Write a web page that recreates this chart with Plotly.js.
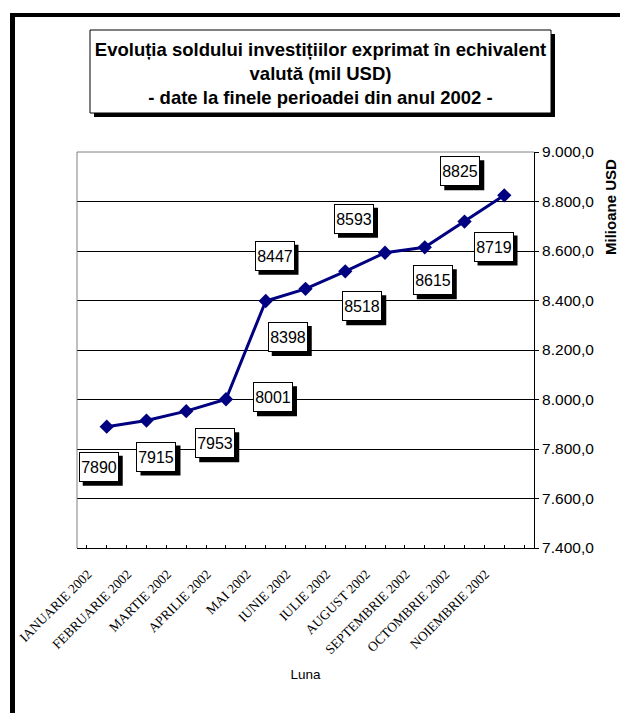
<!DOCTYPE html>
<html>
<head>
<meta charset="utf-8">
<script src="https://cdn.plot.ly/plotly-3.0.1.min.js"></script>
<style>html,body{margin:0;padding:0;background:#fff;}#chart{width:620px;height:713px;}</style>
</head>
<body>
<div id="chart"></div>
<script>
// ---- data ----
const months = ["IANUARIE 2002","FEBRUARIE 2002","MARTIE 2002","APRILIE 2002","MAI 2002","IUNIE 2002","IULIE 2002","AUGUST 2002","SEPTEMBRIE 2002","OCTOMBRIE 2002","NOIEMBRIE 2002"];
const values = [7890, 7915, 7953, 8001, 8398, 8447, 8518, 8593, 8615, 8719, 8825];
const yTicks = [7400, 7600, 7800, 8000, 8200, 8400, 8600, 8800, 9000];

// ---- label placement (pixel offsets of each value box from its point) ----
const labelDX = [-8, 10, 29, 47, 22, -31, 17, -31, 8, 29, -44];
const labelDY = [40, 36, 32, -2, 36, -33, 35, -34, 33, 25, -24];

// ---- geometry helpers ----
const W = 620, H = 713;
const M = {l: 77, r: 86, t: 152, b: 165};
const PW = W - M.l - M.r, PH = H - M.t - M.b;
const px = x => (x - M.l) / PW;
const py = y => (H - M.b - y) / PH;

const AR = "Arial, 'Liberation Sans', sans-serif";
const TNR = "'Times New Roman', 'Liberation Serif', serif";

const traces = [
  {
    x: months, y: values, type: 'scatter', mode: 'lines+markers',
    line: {color: '#000080', width: 3},
    marker: {symbol: 'diamond', size: 11, color: '#000080'},
    hoverinfo: 'x+y', showlegend: false
  },
  {
    x: months, y: values, type: 'scatter', mode: 'markers', xaxis: 'x2',
    marker: {opacity: 0, size: 1}, hoverinfo: 'skip', showlegend: false
  }
];

const BW = 40, BH = 30, SH = 4;
const shapes = [
  // outer frame (top + left)
  {type: 'line', xref: 'paper', yref: 'paper', x0: px(10), x1: px(630), y0: py(15), y1: py(15), line: {color: '#000', width: 4}},
  {type: 'line', xref: 'paper', yref: 'paper', x0: px(12.5), x1: px(12.5), y0: py(13), y1: py(720), line: {color: '#000', width: 5}},
  // title box shadow + box
  {type: 'rect', xref: 'paper', yref: 'paper', x0: px(94), x1: px(555), y0: py(34), y1: py(117), fillcolor: '#000', line: {width: 0}, layer: 'below'},
  {type: 'rect', xref: 'paper', yref: 'paper', x0: px(90), x1: px(551), y0: py(30), y1: py(113), fillcolor: '#fff', line: {color: '#000', width: 1}, layer: 'below'},
  // grey plot-area border (left + top)
  {type: 'line', xref: 'paper', yref: 'paper', x0: 0, x1: 0, y0: 0, y1: 1, line: {color: '#808080', width: 1}, layer: 'above'},
  {type: 'line', xref: 'paper', yref: 'paper', x0: 0, x1: 1, y0: 1, y1: 1, line: {color: '#808080', width: 1}, layer: 'above'}
];

const annotations = [];
values.forEach((v, i) => {
  // shadow of the value box
  shapes.push({
    type: 'rect', xref: 'x', yref: 'y', xsizemode: 'pixel', ysizemode: 'pixel',
    xanchor: months[i], yanchor: v,
    x0: labelDX[i] - BW / 2 + SH, x1: labelDX[i] + BW / 2 + SH,
    y0: -(labelDY[i] + BH / 2 + SH), y1: -(labelDY[i] - BH / 2 + SH),
    fillcolor: '#000', line: {width: 0}, layer: 'above'
  });
  annotations.push({
    x: months[i], y: v, xref: 'x', yref: 'y', showarrow: false,
    text: String(v), font: {family: AR, size: 16, color: '#000'},
    width: BW - 4, height: BH - 4, borderpad: 1, borderwidth: 1,
    bgcolor: '#fff', bordercolor: '#000',
    xanchor: 'center', yanchor: 'middle',
    xshift: labelDX[i], yshift: -labelDY[i]
  });
});
annotations.push({
  text: '<b>Milioane USD</b>', textangle: -90, showarrow: false,
  xref: 'paper', yref: 'paper', x: px(611), y: py(207),
  xanchor: 'center', yanchor: 'middle',
  font: {family: AR, size: 15, color: '#000'}
});

const layout = {
  width: W, height: H, margin: M,
  paper_bgcolor: '#fff', plot_bgcolor: 'rgba(0,0,0,0)',
  separators: ',.',
  showlegend: false,
  title: {
    text: 'Evoluția soldului investițiilor exprimat în echivalent<br>valută (mil USD)<br>- date la finele perioadei din anul 2002 -',
    font: {family: AR, size: 18.5, color: '#000', weight: 'bold'},
    xref: 'container', yref: 'container', x: 320.5 / W, y: 1 - 56 / H,
    xanchor: 'center', yanchor: 'middle'
  },
  xaxis: {
    type: 'category', categoryorder: 'array', categoryarray: months,
    showgrid: false, zeroline: false,
    showline: true, linecolor: '#000', linewidth: 1,
    ticks: 'inside', ticklen: 3, tickcolor: '#000', tickwidth: 1,
    tickangle: -45, tickfont: {family: TNR, size: 13.5, color: '#000'},
    ticklabelshift: -19, ticklabelstandoff: 12,
    automargin: false,
    title: {text: 'Luna', font: {family: AR, size: 13.5, color: '#000'}, standoff: 13}
  },
  xaxis2: {
    type: 'category', overlaying: 'x', anchor: 'y', matches: 'x',
    tickson: 'boundaries', ticks: 'inside', ticklen: 3, tickcolor: '#000',
    showticklabels: false, showgrid: false, showline: false, zeroline: false
  },
  yaxis: {
    side: 'right', range: [7400, 9000], tickmode: 'array', tickvals: yTicks,
    tickformat: ',.1f',
    showgrid: true, gridcolor: '#000', gridwidth: 1, zeroline: false,
    showline: true, linecolor: '#000', linewidth: 1,
    ticks: 'outside', ticklen: 4, tickcolor: '#000',
    tickfont: {family: AR, size: 15.5, color: '#000'},
    automargin: false
  },
  shapes: shapes,
  annotations: annotations
};

Plotly.newPlot('chart', traces, layout, {displayModeBar: false, staticPlot: true});
</script>
</body>
</html>
